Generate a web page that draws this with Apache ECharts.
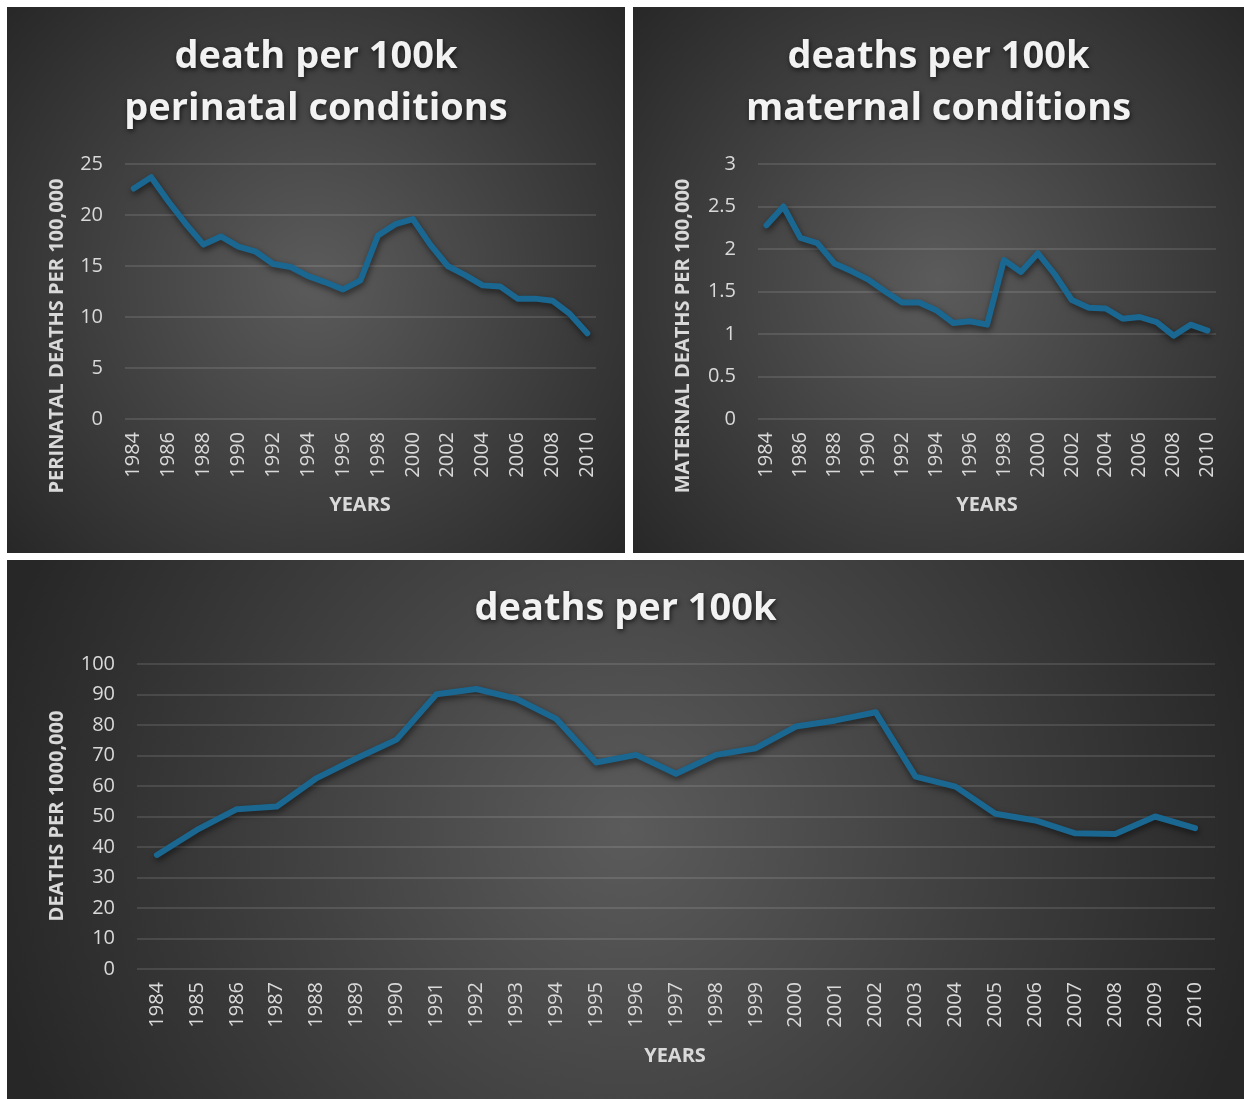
<!DOCTYPE html>
<html>
<head>
<meta charset="utf-8">
<title>deaths per 100k</title>
<script src="https://cdn.jsdelivr.net/npm/echarts@6/dist/echarts.min.js"></script>
<style>
  html, body { margin: 0; padding: 0; background: #ffffff; }
  body { width: 1244px; height: 1099px; position: relative; overflow: hidden; }
  .panel { position: absolute; }
  #perinatal { left: 7px; top: 7px; width: 618px; height: 546px; }
  #maternal { left: 633px; top: 7px; width: 611px; height: 546px; }
  #total { left: 7px; top: 560px; width: 1237px; height: 539px; }
</style>
</head>
<body>
<div id="perinatal" class="panel"></div>
<div id="maternal" class="panel"></div>
<div id="total" class="panel"></div>
<script>
// Years on the category axis
const years = ['1984', '1985', '1986', '1987', '1988', '1989', '1990', '1991', '1992',
  '1993', '1994', '1995', '1996', '1997', '1998', '1999', '2000', '2001', '2002',
  '2003', '2004', '2005', '2006', '2007', '2008', '2009', '2010'];

// Perinatal conditions, deaths per 100,000
const perinatalDeaths = [22.6, 23.7, 21.3, 19.1, 17.1, 17.9, 16.9, 16.4, 15.2, 14.9,
  14.0, 13.4, 12.7, 13.6, 18.0, 19.1, 19.6, 17.1, 15.0, 14.1, 13.1, 13.0, 11.8, 11.8,
  11.6, 10.3, 8.4];

// Maternal conditions, deaths per 100,000
const maternalDeaths = [2.28, 2.50, 2.13, 2.07, 1.83, 1.74, 1.64, 1.50, 1.37, 1.37,
  1.28, 1.13, 1.15, 1.11, 1.87, 1.73, 1.95, 1.70, 1.40, 1.31, 1.30, 1.18, 1.20, 1.14,
  0.98, 1.11, 1.04];

// All deaths, per 1000,000
const totalDeaths = [37.4, 45.6, 52.4, 53.3, 62.6, 69.1, 75.2, 90.1, 91.8, 88.6,
  82.0, 67.7, 70.2, 64.0, 70.2, 72.4, 79.5, 81.5, 84.2, 63.1, 59.8, 50.9, 48.7, 44.5,
  44.3, 50.0, 46.2];

// Value axis ranges and tick steps
const perinatalAxis = { min: 0, max: 25, interval: 5 };
const maternalAxis = { min: 0, max: 3, interval: 0.5 };
const totalAxis = { min: 0, max: 100, interval: 10 };

const FONT = '"Open Sans", "Noto Sans", sans-serif';
const LINE_COLOR = '#1a6791';
const LABEL_COLOR = '#d9d9d9';

function panelBackground(r) {
  return {
    type: 'radial', x: 0.5, y: 0.5, r: r,
    colorStops: [
      { offset: 0, color: '#5b5b5b' },
      { offset: 1, color: '#272727' }
    ]
  };
}

function axisTitle(text, x, y, vertical) {
  return {
    type: 'text',
    x: x, y: y,
    rotation: vertical ? Math.PI / 2 : 0,
    style: {
      text: text,
      fill: LABEL_COLOR,
      fontFamily: FONT,
      fontSize: 20,
      fontWeight: 'bold',
      align: 'center',
      verticalAlign: 'middle'
    }
  };
}

function buildOption(cfg) {
  return {
    animation: false,
    backgroundColor: panelBackground(cfg.bgR),
    title: {
      text: cfg.title,
      left: 'center',
      top: cfg.titleTop,
      textStyle: {
        color: '#f2f2f2',
        fontFamily: FONT,
        fontWeight: 'bold',
        fontSize: 38,
        lineHeight: 52,
        textShadowColor: 'rgba(0,0,0,0.65)',
        textShadowBlur: 5,
        textShadowOffsetX: 1,
        textShadowOffsetY: 2
      }
    },
    grid: cfg.grid,
    xAxis: {
      type: 'category',
      data: years,
      boundaryGap: true,
      axisLine: { show: false },
      axisTick: { show: false },
      axisLabel: {
        rotate: 90,
        interval: cfg.labelInterval,
        margin: 13,
        color: LABEL_COLOR,
        fontFamily: FONT,
        fontSize: 20
      },
      splitLine: { show: false }
    },
    yAxis: {
      type: 'value',
      min: cfg.axis.min,
      max: cfg.axis.max,
      interval: cfg.axis.interval,
      axisLine: { show: false },
      axisTick: { show: false },
      axisLabel: {
        margin: 22,
        color: LABEL_COLOR,
        fontFamily: FONT,
        fontSize: 20
      },
      splitLine: {
        show: true,
        lineStyle: { color: 'rgba(255,255,255,0.15)', width: 1.5 }
      }
    },
    graphic: [
      axisTitle(cfg.yTitle, cfg.yTitlePos[0], cfg.yTitlePos[1], true),
      axisTitle('YEARS', cfg.xTitlePos[0], cfg.xTitlePos[1], false)
    ],
    series: [{
      type: 'line',
      data: cfg.data,
      symbol: 'none',
      smooth: false,
      lineStyle: {
        color: LINE_COLOR,
        width: 6,
        cap: 'round',
        join: 'round',
        shadowColor: 'rgba(0,0,0,0.55)',
        shadowBlur: 6,
        shadowOffsetX: 1,
        shadowOffsetY: 3
      }
    }]
  };
}

echarts.init(document.getElementById('perinatal')).setOption(buildOption({
  title: 'death per 100k\nperinatal conditions',
  titleTop: 19,
  bgR: 0.76,
  grid: { left: 118, top: 157, width: 471, height: 255 },
  axis: perinatalAxis,
  labelInterval: 1,
  data: perinatalDeaths,
  yTitle: 'PERINATAL DEATHS PER 100,000',
  yTitlePos: [50, 329],
  xTitlePos: [353, 498]
}));

echarts.init(document.getElementById('maternal')).setOption(buildOption({
  title: 'deaths per 100k\nmaternal conditions',
  titleTop: 19,
  bgR: 0.76,
  grid: { left: 125, top: 157, width: 458, height: 255 },
  axis: maternalAxis,
  labelInterval: 1,
  data: maternalDeaths,
  yTitle: 'MATERNAL DEATHS PER 100,000',
  yTitlePos: [50, 329],
  xTitlePos: [354, 498]
}));

echarts.init(document.getElementById('total')).setOption(buildOption({
  title: 'deaths per 100k',
  titleTop: 18,
  bgR: 1.2,
  grid: { left: 130, top: 104, width: 1078, height: 305 },
  axis: totalAxis,
  labelInterval: 0,
  data: totalDeaths,
  yTitle: 'DEATHS PER 1000,000',
  yTitlePos: [50, 256],
  xTitlePos: [668, 496]
}));
</script>
</body>
</html>
